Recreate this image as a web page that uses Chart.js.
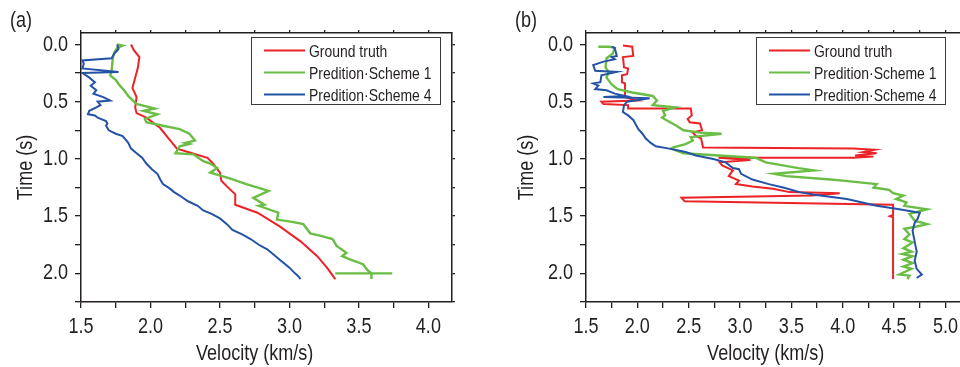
<!DOCTYPE html>
<html>
<head>
<meta charset="utf-8">
<title>Velocity profiles</title>
<script src="https://cdn.jsdelivr.net/npm/chart.js@4.4.1/dist/chart.umd.min.js"></script>
<style>
  html, body { margin: 0; padding: 0; background: #fff; overflow: hidden; }
  body { position: relative; width: 960px; height: 367px; }
  canvas { position: absolute; top: 0; }
  #chart-a { left: 0; }
  #chart-b { left: 500px; }
</style>
</head>
<body>
<canvas id="chart-a" width="480" height="367"></canvas>
<canvas id="chart-b" width="500" height="367"></canvas>
<script>
"use strict";

// ── panel (a): velocity (km/s) vs time (s) ───────────────────────────────────
const aTruthVel  = [1.86, 1.88, 1.92, 1.91, 1.89, 1.87, 1.90, 1.89, 1.90, 1.97, 2.07, 2.13, 2.19, 2.30, 2.41, 2.45, 2.50, 2.51, 2.55, 2.61, 2.61, 2.70, 2.77, 2.93, 3.08, 3.20, 3.27, 3.33];
const aTruthTime = [0.00, 0.05, 0.11, 0.20, 0.29, 0.38, 0.46, 0.55, 0.60, 0.64, 0.73, 0.82, 0.91, 0.95, 0.99, 1.04, 1.12, 1.19, 1.24, 1.31, 1.40, 1.44, 1.47, 1.59, 1.72, 1.85, 1.95, 2.05];

const aS1Vel  = [1.76, 1.80, 1.76, 1.74, 1.73, 1.72, 1.71, 1.75, 1.78, 1.81, 1.84, 1.89, 1.90, 2.03, 1.95, 2.05, 1.96, 1.97, 2.09, 2.21, 2.28, 2.32, 2.25, 2.28, 2.21, 2.19, 2.18, 2.31, 2.38, 2.43, 2.48, 2.43, 2.57, 2.69, 2.85, 2.74, 2.82, 2.78, 2.92, 2.91, 3.02, 3.10, 3.15, 3.22, 3.31, 3.34, 3.41, 3.38, 3.44, 3.53, 3.56, 3.59, 3.33, 3.74, 3.59, 3.59];
const aS1Time = [0.00, 0.01, 0.03, 0.07, 0.11, 0.23, 0.27, 0.31, 0.36, 0.40, 0.45, 0.51, 0.52, 0.56, 0.58, 0.61, 0.65, 0.68, 0.71, 0.74, 0.78, 0.84, 0.86, 0.87, 0.89, 0.93, 0.95, 0.96, 1.02, 1.04, 1.08, 1.12, 1.17, 1.22, 1.28, 1.34, 1.40, 1.41, 1.47, 1.53, 1.55, 1.57, 1.65, 1.67, 1.70, 1.76, 1.82, 1.85, 1.88, 1.92, 1.97, 2.00, 2.00, 2.00, 2.00, 2.05];

const aS4Vel  = [1.76, 1.77, 1.74, 1.72, 1.51, 1.52, 1.51, 1.77, 1.51, 1.56, 1.60, 1.57, 1.61, 1.59, 1.66, 1.71, 1.62, 1.64, 1.61, 1.56, 1.55, 1.60, 1.62, 1.68, 1.69, 1.68, 1.70, 1.75, 1.80, 1.84, 1.86, 1.90, 1.94, 1.97, 2.01, 2.05, 2.07, 2.09, 2.14, 2.17, 2.21, 2.27, 2.34, 2.38, 2.44, 2.50, 2.55, 2.59, 2.66, 2.72, 2.78, 2.84, 2.89, 2.93, 2.97, 3.00, 3.04, 3.06, 3.08];
const aS4Time = [0.00, 0.04, 0.08, 0.12, 0.14, 0.17, 0.21, 0.24, 0.25, 0.29, 0.33, 0.36, 0.40, 0.43, 0.46, 0.49, 0.50, 0.53, 0.55, 0.58, 0.61, 0.62, 0.64, 0.67, 0.69, 0.71, 0.75, 0.78, 0.80, 0.86, 0.91, 0.95, 0.99, 1.04, 1.09, 1.13, 1.18, 1.22, 1.26, 1.29, 1.32, 1.37, 1.41, 1.45, 1.48, 1.52, 1.57, 1.62, 1.66, 1.70, 1.75, 1.79, 1.84, 1.88, 1.92, 1.95, 2.00, 2.02, 2.05];

// ── panel (b) ─────────────────────────────────────────────────────────────────
const bTruthVel  = [1.86, 1.95, 1.96, 1.86, 1.87, 1.91, 1.90, 1.85, 1.85, 1.88, 1.88, 2.00, 1.65, 1.67, 1.91, 1.91, 2.52, 2.53, 2.49, 2.51, 2.61, 2.63, 2.54, 2.57, 2.62, 2.64, 4.10, 4.31, 4.20, 4.33, 4.12, 4.30, 4.10, 2.79, 3.10, 2.80, 2.83, 2.93, 2.89, 2.99, 2.96, 3.12, 3.32, 3.48, 3.97, 3.70, 2.43, 2.46, 4.49, 4.49, 4.46, 4.49, 4.49];
const bTruthTime = [0.01, 0.02, 0.10, 0.11, 0.20, 0.21, 0.26, 0.27, 0.33, 0.34, 0.46, 0.49, 0.50, 0.52, 0.53, 0.56, 0.56, 0.62, 0.65, 0.68, 0.69, 0.75, 0.77, 0.80, 0.82, 0.90, 0.91, 0.92, 0.94, 0.95, 0.97, 0.98, 0.99, 0.99, 1.01, 1.03, 1.06, 1.10, 1.15, 1.19, 1.22, 1.24, 1.26, 1.29, 1.30, 1.32, 1.34, 1.37, 1.40, 1.49, 1.50, 1.51, 2.05];

const bS1Vel  = [1.62, 1.73, 1.78, 1.76, 1.70, 1.69, 1.72, 1.70, 1.75, 1.81, 1.95, 2.15, 2.19, 2.15, 2.37, 2.25, 2.27, 2.24, 2.32, 2.38, 2.45, 2.61, 2.82, 2.52, 2.54, 2.47, 2.35, 2.33, 2.45, 2.79, 3.15, 3.25, 3.57, 3.72, 3.33, 3.45, 3.88, 4.00, 4.33, 4.30, 4.45, 4.49, 4.59, 4.52, 4.62, 4.60, 4.82, 4.65, 4.70, 4.82, 4.72, 4.60, 4.65, 4.60, 4.68, 4.59, 4.67, 4.58, 4.68, 4.59, 4.68, 4.59, 4.67, 4.55, 4.65, 4.63];
const bS1Time = [0.02, 0.02, 0.03, 0.08, 0.12, 0.20, 0.24, 0.29, 0.35, 0.39, 0.42, 0.45, 0.49, 0.53, 0.55, 0.58, 0.62, 0.64, 0.68, 0.71, 0.75, 0.77, 0.78, 0.81, 0.84, 0.87, 0.90, 0.91, 0.95, 0.97, 0.99, 1.03, 1.08, 1.10, 1.13, 1.15, 1.18, 1.19, 1.22, 1.25, 1.27, 1.30, 1.32, 1.35, 1.38, 1.41, 1.44, 1.48, 1.54, 1.57, 1.59, 1.61, 1.66, 1.70, 1.73, 1.78, 1.81, 1.83, 1.85, 1.88, 1.91, 1.94, 1.96, 2.01, 2.02, 2.05];

const bS4Vel  = [1.75, 1.78, 1.80, 1.75, 1.78, 1.67, 1.57, 1.59, 1.80, 1.65, 1.64, 1.57, 1.62, 1.59, 1.70, 1.78, 1.88, 1.67, 2.12, 1.90, 1.87, 1.86, 1.91, 1.96, 2.01, 2.05, 2.08, 2.13, 2.18, 2.31, 2.47, 2.57, 2.74, 2.86, 2.93, 2.99, 3.01, 3.12, 3.28, 3.42, 3.58, 3.71, 4.04, 4.33, 4.55, 4.75, 4.73, 4.70, 4.68, 4.70, 4.72, 4.70, 4.72, 4.77, 4.72];
const bS4Time = [0.02, 0.03, 0.10, 0.11, 0.13, 0.15, 0.18, 0.23, 0.24, 0.27, 0.33, 0.34, 0.36, 0.39, 0.40, 0.43, 0.45, 0.46, 0.47, 0.50, 0.53, 0.59, 0.62, 0.66, 0.74, 0.78, 0.82, 0.86, 0.89, 0.91, 0.94, 0.97, 1.00, 1.03, 1.08, 1.09, 1.13, 1.18, 1.22, 1.25, 1.29, 1.31, 1.35, 1.41, 1.44, 1.47, 1.52, 1.56, 1.63, 1.72, 1.81, 1.89, 1.96, 2.01, 2.04];

// ── labels and tick values ────────────────────────────────────────────────────
const seriesLabels = ["Ground truth", "Predition\u00b7Scheme 1", "Predition\u00b7Scheme 4"];
const timeTicks = [0.0, 0.5, 1.0, 1.5, 2.0];
const aVelTicks = [1.5, 2.0, 2.5, 3.0, 3.5, 4.0];
const bVelTicks = [1.5, 2.0, 2.5, 3.0, 3.5, 4.0, 4.5, 5.0];

const FONT = "'Liberation Sans', Arial, sans-serif";
const NARROW = 0.82;          // horizontal squeeze, gives a narrow-face look
const INK = "#231f20";
const COLORS = ["#ec2227", "#6abd45", "#2453a6"];
const WIDTHS = [2, 2.4, 2];

const pairUp = (vel, time) => vel.map((v, i) => ({ x: v, y: time[i] }));

function narrowText(ctx, text, x, y, o = {}) {
  ctx.save();
  ctx.font = `${o.size || 22}px ${FONT}`;
  ctx.fillStyle = INK;
  ctx.textAlign = o.align || "center";
  ctx.textBaseline = o.baseline || "alphabetic";
  ctx.translate(x, y);
  if (o.rotate) ctx.rotate(-Math.PI / 2);
  ctx.scale(NARROW, 1);
  ctx.fillText(text, 0, 0);
  ctx.restore();
}

// tick labels, axis captions and the panel tag
const axisText = {
  id: "axisText",
  afterDraw(chart, args, opts) {
    const { ctx, chartArea: area, scales: { x, y } } = chart;
    opts.velTicks.forEach(v => narrowText(ctx, v.toFixed(1), x.getPixelForValue(v), area.bottom + 31));
    timeTicks.forEach(t => narrowText(ctx, t.toFixed(1), area.left - 13, y.getPixelForValue(t), { align: "right", baseline: "middle" }));
    const cx = (x.getPixelForValue(opts.velTicks[0]) + x.getPixelForValue(opts.velTicks[opts.velTicks.length - 1])) / 2;
    narrowText(ctx, "Velocity (km/s)", cx, area.bottom + 58);
    narrowText(ctx, "Time (s)", area.left - opts.timeGap, (area.top + area.bottom) / 2, { rotate: true, baseline: "middle" });
    narrowText(ctx, opts.tag, opts.tagX, 27, { align: "left" });
  },
};

// boxed legend drawn inside the plot frame
const boxLegend = {
  id: "boxLegend",
  afterDraw(chart, args, opts) {
    const { ctx } = chart;
    const { left, top, width, height } = opts;
    ctx.save();
    ctx.fillStyle = "#fff";
    ctx.fillRect(left, top, width, height);
    ctx.strokeStyle = "#3a3a3a";
    ctx.lineWidth = 1;
    ctx.strokeRect(left + 0.5, top + 0.5, width, height);
    chart.data.datasets.forEach((ds, i) => {
      const cy = top + 13.5 + i * 22;
      ctx.strokeStyle = ds.borderColor;
      ctx.lineWidth = 2;
      ctx.beginPath();
      ctx.moveTo(left + 13, cy);
      ctx.lineTo(left + 54, cy);
      ctx.stroke();
      narrowText(ctx, ds.label, left + 58, cy + 6, { size: 17, align: "left" });
    });
    ctx.restore();
  },
};

function buildScales(xMax, yAxisWidth) {
  const frame = { display: true, color: INK, width: 1.5 };
  const marks = (len) => ({ drawOnChartArea: false, drawTicks: true, tickLength: len, color: INK, lineWidth: 1.3 });
  const steps = { stepSize: 0.25, autoSkip: false, includeBounds: false, callback: () => "" };
  return {
    x: {
      type: "linear", position: "bottom", min: 1.5, max: xMax,
      ticks: { ...steps, maxRotation: 0, minRotation: 0 },
      grid: marks(6), border: frame,
      afterFit: (s) => { s.height = 65; },
    },
    x2: {
      type: "linear", axis: "x", position: "top", min: 1.5, max: xMax,
      ticks: { ...steps },
      grid: marks(3), border: frame,
      afterFit: (s) => { s.height = 5; },
    },
    y: {
      type: "linear", position: "left", reverse: true, min: -0.1, max: 2.25,
      ticks: { ...steps },
      grid: marks(6), border: frame,
      afterFit: (s) => { s.width = yAxisWidth; },
    },
    y2: {
      type: "linear", axis: "y", position: "right", reverse: true, min: -0.1, max: 2.25,
      ticks: { ...steps },
      grid: marks(3), border: frame,
      afterFit: (s) => { s.width = 5; },
    },
  };
}

function buildPanel(canvasId, series, opt) {
  return new Chart(document.getElementById(canvasId), {
    type: "scatter",
    data: {
      datasets: series.map((pts, i) => ({
        label: seriesLabels[i],
        data: pts,
        showLine: true,
        borderColor: COLORS[i],
        backgroundColor: COLORS[i],
        borderWidth: WIDTHS[i],
        pointRadius: 0,
        tension: 0,
        order: 3 - i,
      })),
    },
    options: {
      responsive: false,
      animation: false,
      layout: { padding: opt.padding },
      scales: buildScales(opt.xMax, opt.yAxisWidth),
      plugins: {
        legend: { display: false },
        tooltip: { enabled: false },
        boxLegend: opt.legend,
        axisText: { velTicks: opt.velTicks, timeGap: opt.timeGap, tag: opt.tag, tagX: opt.tagX },
      },
    },
    plugins: [boxLegend, axisText],
  });
}

buildPanel("chart-a", [
  pairUp(aTruthVel, aTruthTime),
  pairUp(aS1Vel, aS1Time),
  pairUp(aS4Vel, aS4Time),
], {
  xMax: 4.17, yAxisWidth: 72, velTicks: aVelTicks, timeGap: 55, tag: "(a)", tagX: 10,
  padding: { left: 9, right: 23, top: 28, bottom: 0 },
  legend: { left: 251, top: 37, width: 189, height: 67 },
});

buildPanel("chart-b", [
  pairUp(bTruthVel, bTruthTime),
  pairUp(bS1Vel, bS1Time),
  pairUp(bS4Vel, bS4Time),
], {
  xMax: 5.2, yAxisWidth: 76, velTicks: bVelTicks, timeGap: 59, tag: "(b)", tagX: 15,
  padding: { left: 10, right: 29, top: 28, bottom: 0 },
  legend: { left: 256, top: 37, width: 189, height: 67 },
});
</script>
</body>
</html>
